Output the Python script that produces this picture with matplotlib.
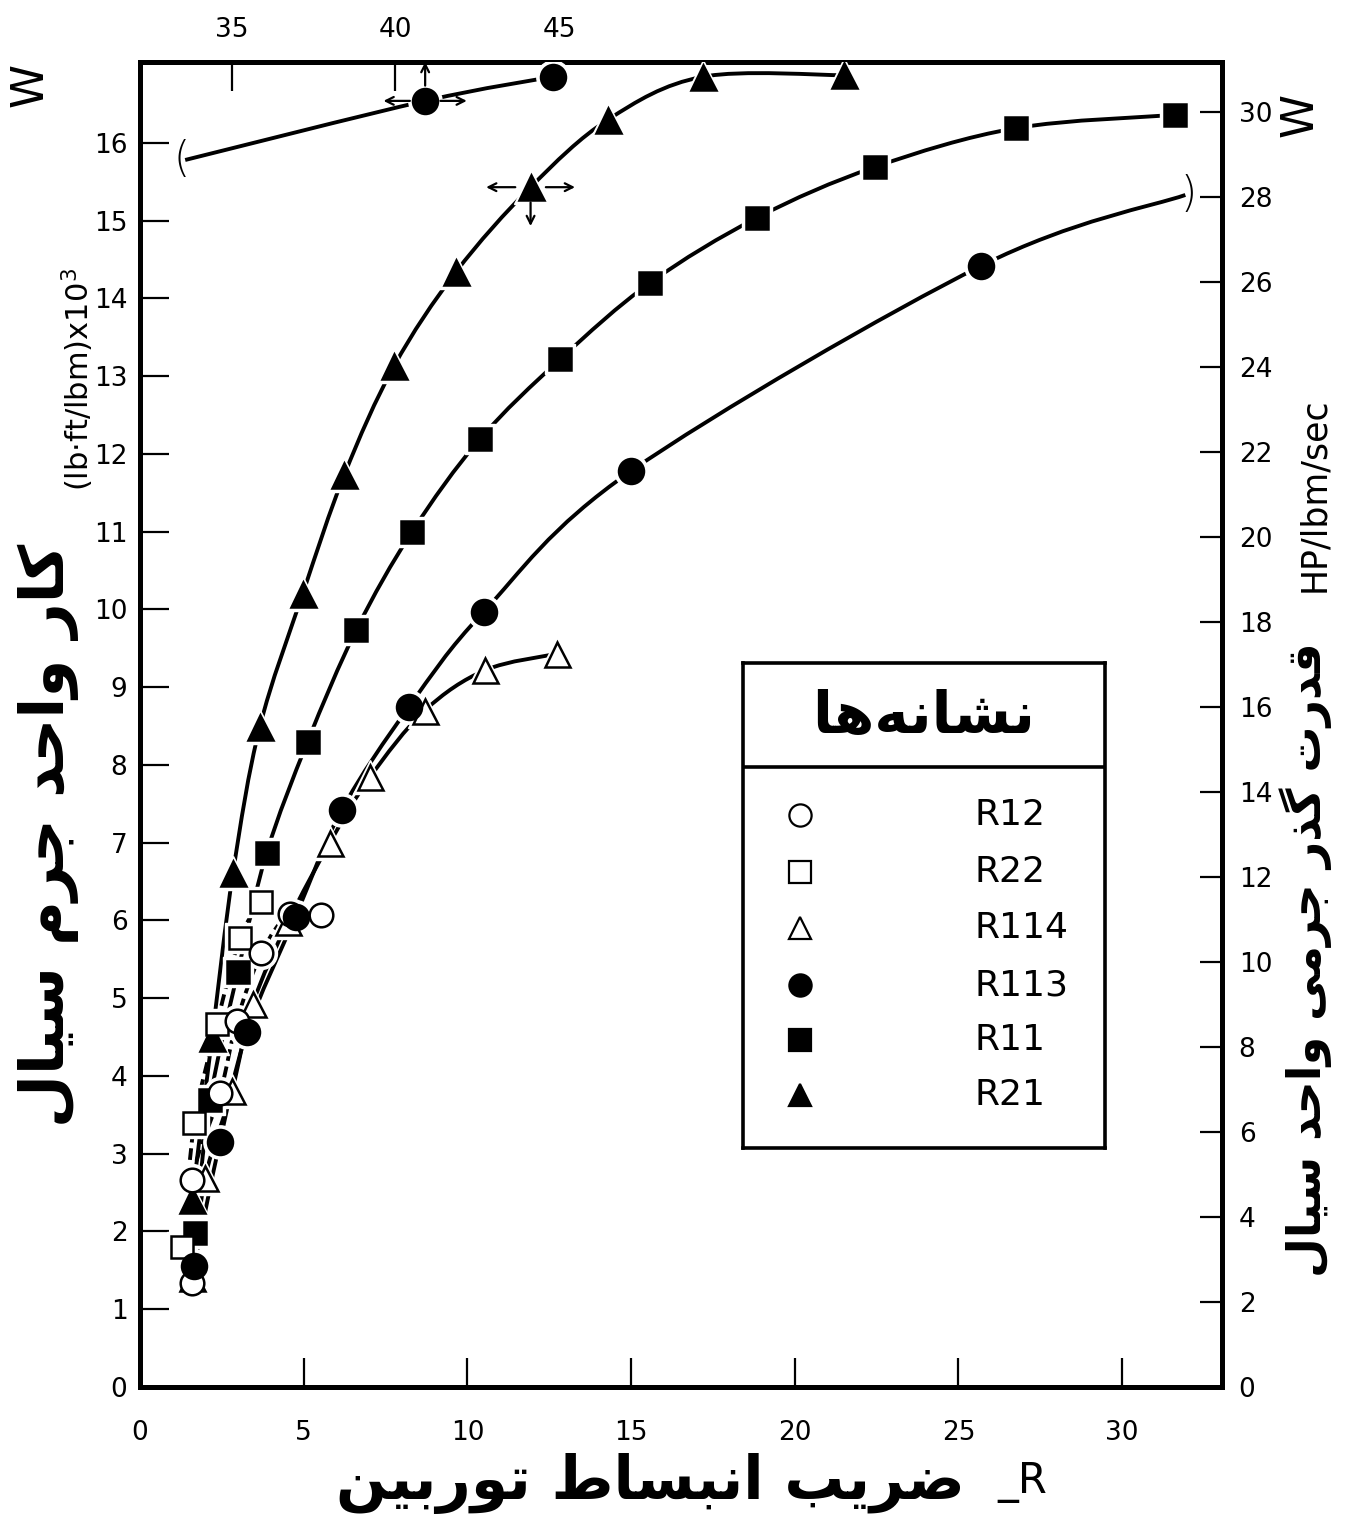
import numpy as np
import matplotlib
matplotlib.use("Agg")
import matplotlib.pyplot as plt
from matplotlib.path import Path
from matplotlib.patches import PathPatch

# values: x = R (turbine expansion ratio), y = W (lb.ft/lbm x 1000)
r21_x = [1.59, 2.20, 2.84, 3.66, 4.97, 6.24, 7.76, 9.65, 11.93, 14.30, 17.19, 21.50]
r21_y = [2.41, 4.49, 6.61, 8.49, 10.20, 11.73, 13.13, 14.34, 15.43, 16.30, 16.85, 16.87]

r11_x = [1.68, 2.14, 2.99, 3.87, 5.12, 6.61, 8.31, 10.38, 12.84, 15.58, 18.86, 22.45, 26.76, 31.62]
r11_y = [1.98, 3.69, 5.34, 6.87, 8.30, 9.74, 11.00, 12.19, 13.22, 14.20, 15.04, 15.69, 16.19, 16.36]

r113_x = [1.65, 2.44, 3.27, 4.75, 6.16, 8.22, 10.50, 15.00, 25.70]
r113_y = [1.55, 3.15, 4.57, 6.05, 7.42, 8.75, 9.97, 11.78, 14.42]
# where the R113 curve runs out at the right (bracket), and where it picks up again on the top scale
r113_end_x, r113_end_y = 31.93, 15.33
r113_top_start_x, r113_top_start_y = 33.58, 15.78
r113_top_x = [40.91, 44.80]
r113_top_y = [16.54, 16.85]

r114_x = [1.60, 1.99, 2.81, 3.45, 4.52, 5.80, 7.02, 8.70, 10.55, 12.74]
r114_y = [1.40, 2.69, 3.81, 4.93, 5.98, 7.00, 7.84, 8.70, 9.22, 9.43]

r12_x = [1.60, 1.60, 2.45, 2.96, 3.71, 4.57, 5.53]
r12_y = [1.34, 2.66, 3.78, 4.71, 5.58, 6.08, 6.07]

r22_x = [1.29, 1.66, 2.35, 3.05, 3.71]
r22_y = [1.80, 3.39, 4.67, 5.77, 6.24]

legend_labels = ["R12", "R22", "R114", "R113", "R11", "R21"]

TOP_SHIFT = 32.2   # top scale = R + 32.2
POWER = 1.83       # right scale (HP/lbm/sec) per left unit

left_ticks = list(range(0, 17))
right_ticks = list(range(0, 31, 2))
bottom_ticks = [0, 5, 10, 15, 20, 25, 30]
top_ticks = [35, 40, 45]

# ---- minimal persian shaping (matplotlib has no text shaping) ----
FORMS = {
    "ا": ("\uFE8D", "\uFE8E", None, None),
    "ب": ("\uFE8F", "\uFE90", "\uFE91", "\uFE92"),
    "ت": ("\uFE95", "\uFE96", "\uFE97", "\uFE98"),
    "ج": ("\uFE9D", "\uFE9E", "\uFE9F", "\uFEA0"),
    "ح": ("\uFEA1", "\uFEA2", "\uFEA3", "\uFEA4"),
    "د": ("\uFEA9", "\uFEAA", None, None),
    "ذ": ("\uFEAB", "\uFEAC", None, None),
    "ر": ("\uFEAD", "\uFEAE", None, None),
    "ز": ("\uFEAF", "\uFEB0", None, None),
    "س": ("\uFEB1", "\uFEB2", "\uFEB3", "\uFEB4"),
    "ش": ("\uFEB5", "\uFEB6", "\uFEB7", "\uFEB8"),
    "ض": ("\uFEBD", "\uFEBE", "\uFEBF", "\uFEC0"),
    "ط": ("\uFEC1", "\uFEC2", "\uFEC3", "\uFEC4"),
    "ق": ("\uFED5", "\uFED6", "\uFED7", "\uFED8"),
    "ل": ("\uFEDD", "\uFEDE", "\uFEDF", "\uFEE0"),
    "م": ("\uFEE1", "\uFEE2", "\uFEE3", "\uFEE4"),
    "ن": ("\uFEE5", "\uFEE6", "\uFEE7", "\uFEE8"),
    "ه": ("\uFEE9", "\uFEEA", "\uFEEB", "\uFEEC"),
    "و": ("\uFEED", "\uFEEE", None, None),
    "ی": ("\uFBFC", "\uFBFD", "\uFBFE", "\uFBFF"),
    "ک": ("\uFB8E", "\uFB8F", "\uFB90", "\uFB91"),
    "گ": ("\uFB92", "\uFB93", "\uFB94", "\uFB95"),
}


def fa(text):
    out = []
    for i, ch in enumerate(text):
        f = FORMS.get(ch)
        if f is None:
            out.append(ch)
            continue
        prev = text[i - 1] if i > 0 else None
        nxt = text[i + 1] if i + 1 < len(text) else None
        join_prev = prev in FORMS and FORMS[prev][2] is not None
        join_next = f[2] is not None and nxt in FORMS
        if join_prev and join_next:
            out.append(f[3])
        elif join_prev:
            out.append(f[1])
        elif join_next:
            out.append(f[2])
        else:
            out.append(f[0])
    return "".join(reversed(out)).replace("\u200c", "")


FA_FONT = ["DejaVu Sans"]

W, H = 1357, 1517
fig = plt.figure(figsize=(W / 100, H / 100), dpi=100)
ax = fig.add_axes([140 / W, 1 - 1387 / H, (1222 - 140) / W, (1387 - 62) / H])
ax.set_xlim(0.164, 33.05)
ax.set_ylim(0, 17.04)

for s in ax.spines.values():
    s.set_linewidth(3.6)

ax.set_xticks(bottom_ticks)
ax.set_yticks(left_ticks)
ax.tick_params(direction="in", length=21, width=1.6, labelsize=19)
ax.tick_params(axis="x", pad=24)
ax.tick_params(axis="y", pad=9)

top = ax.secondary_xaxis("top", functions=(lambda x: x + TOP_SHIFT, lambda x: x - TOP_SHIFT))
top.set_xticks(top_ticks)
top.tick_params(direction="in", length=21, width=1.6, labelsize=19, pad=14)

right = ax.secondary_yaxis("right", functions=(lambda y: y * POWER, lambda y: y / POWER))
right.set_yticks(right_ticks)
right.tick_params(direction="in", length=16, width=1.6, labelsize=19, pad=12)

LW = 2.8


def curve(x, y, ls="-"):
    # smooth curve through the points (catmull-rom drawn as bezier path)
    p = np.column_stack([x, y]).astype(float)
    q = np.vstack([p[:1], p, p[-1:]])
    verts = [tuple(p[0])]
    codes = [Path.MOVETO]
    for i in range(1, len(q) - 2):
        c1 = q[i] + (q[i + 1] - q[i - 1]) / 6
        c2 = q[i + 1] - (q[i + 2] - q[i]) / 6
        verts += [tuple(c1), tuple(c2), tuple(q[i + 1])]
        codes += [Path.CURVE4] * 3
    ax.add_patch(PathPatch(Path(verts, codes), fill=False, lw=LW, ls=ls, ec="black", zorder=2))


def marks(x, y, marker, filled, ms):
    ax.plot(x, y, ls="none", marker=marker, ms=ms + 6, mfc="white", mec="white", zorder=3)
    ax.plot(x, y, ls="none", marker=marker, ms=ms,
            mfc="black" if filled else "white", mec="black", mew=1.8, zorder=4)


curve(r21_x, r21_y)
marks(r21_x, r21_y, "^", True, 18)
curve(r11_x, r11_y)
marks(r11_x, r11_y, "s", True, 16)
curve(r114_x, r114_y)
marks(r114_x, r114_y, "^", False, 18)
curve(r22_x, r22_y, ls=(0, (3, 1.5)))
marks(r22_x, r22_y, "s", False, 16)
curve(r12_x, r12_y, ls=(0, (3, 1.5)))
marks(r12_x, r12_y, "o", False, 17)

# R113: main curve runs on to the right edge, then continues along the top scale
curve(r113_x + [r113_end_x], r113_y + [r113_end_y])
curve([r113_top_start_x - TOP_SHIFT] + [v - TOP_SHIFT for v in r113_top_x],
      [r113_top_start_y] + r113_top_y)
marks(r113_x + [v - TOP_SHIFT for v in r113_top_x], r113_y + r113_top_y, "o", True, 18)

ax.text(r113_end_x + 0.1, r113_end_y, ")", fontsize=30, ha="center", va="center", fontweight="light")
ax.text(r113_top_start_x - TOP_SHIFT - 0.1, r113_top_start_y, "(", fontsize=30, ha="center", va="center",
        fontweight="light")


def arrow(x, y, dx, dy):
    ax.annotate("", xy=(x, y), xytext=(dx, dy), textcoords="offset points",
                arrowprops=dict(arrowstyle="<-", lw=1.6, color="black", shrinkA=0, shrinkB=11,
                                mutation_scale=14), zorder=5)


mx, my = r113_top_x[0] - TOP_SHIFT, r113_top_y[0]
arrow(mx, my, 30, 0)
arrow(mx, my, -30, 0)
arrow(mx, my, 0, 28)
tx, ty = r21_x[8], r21_y[8]
arrow(tx, ty, 32, 0)
arrow(tx, ty, -32, 0)
arrow(tx, ty, 0, -28)

# ---- legend box ----
lax = fig.add_axes([743 / W, 1 - 1148 / H, 362 / W, 485 / H])
lax.set_xlim(0, 1)
lax.set_ylim(0, 1)
lax.set_xticks([])
lax.set_yticks([])
for s in lax.spines.values():
    s.set_linewidth(2.6)
lax.axhline(0.786, color="black", lw=2.6)
lax.text(0.5, 0.89, fa("نشانه‌ها"), fontsize=42, fontweight="bold", ha="center", va="center",
         family=FA_FONT)
leg_markers = [("o", False), ("s", False), ("^", False), ("o", True), ("s", True), ("^", True)]
leg_y = [0.687, 0.569, 0.454, 0.336, 0.222, 0.109]
for lab, (m, filled), yy in zip(legend_labels, leg_markers, leg_y):
    lax.plot([0.157], [yy], marker=m, ms=16, mfc="black" if filled else "white", mec="black", mew=1.6)
    lax.text(0.64, yy, lab, fontsize=26, ha="left", va="center")

# ---- axis titles ----
fig.text(48 / W, 1 - 835 / H, fa("کار واحد جرم سیال"), rotation=90, fontsize=44, fontweight="bold",
         ha="center", va="center", family=FA_FONT)
fig.text(78 / W, 1 - 380 / H, r"(lb$\cdot$ft/lbm)x10$^3$", rotation=90, fontsize=22,
         ha="center", va="center")
fig.text(30 / W, 1 - 85 / H, "W", rotation=90, fontsize=32, ha="center", va="center")
fig.text(1300 / W, 1 - 115 / H, "W", rotation=90, fontsize=32, ha="center", va="center")
fig.text(1306 / W, 1 - 960 / H, fa("قدرت گذر جرمی واحد سیال"), rotation=90, fontsize=33,
         fontweight="bold", ha="center", va="center", family=FA_FONT)
fig.text(1314 / W, 1 - 495 / H, "HP/lbm/sec", rotation=90, fontsize=25, ha="center", va="center")
fig.text(650 / W, 1 - 1484 / H, fa("ضریب انبساط توربین"), fontsize=43, fontweight="bold",
         ha="center", va="center", family=FA_FONT)
fig.text(1022 / W, 1 - 1482 / H, "_R", fontsize=30, ha="center", va="center")

fig.savefig("out.png", dpi=100, facecolor="white")
